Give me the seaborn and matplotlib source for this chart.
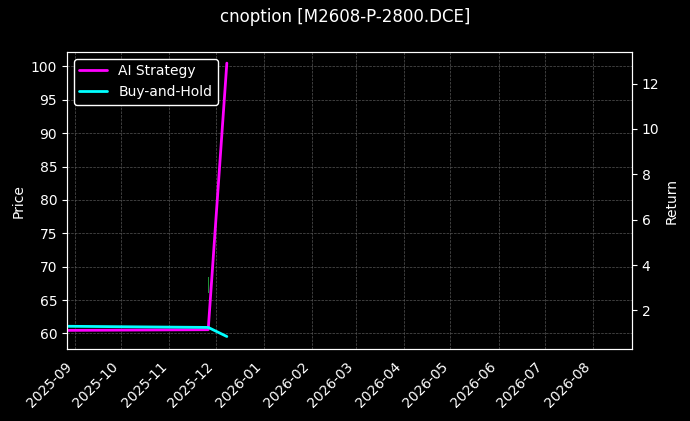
import matplotlib
matplotlib.use("Agg")
import matplotlib.pyplot as plt
import matplotlib.dates as mdates
import seaborn as sns
import pandas as pd

dates = pd.to_datetime(["2025-08-28", "2025-11-26", "2025-12-08"])
ai_return = [1.12, 1.15, 12.9]
bh_return = [1.30, 1.25, 0.85]
candle_date = pd.to_datetime(["2025-11-26"])
candle_open = [66.0]
candle_close = [68.5]

sns.set_style("dark")
plt.rcParams.update({"figure.facecolor": "black", "axes.facecolor": "black",
                     "text.color": "white", "axes.labelcolor": "white",
                     "xtick.color": "white", "ytick.color": "white",
                     "axes.edgecolor": "white"})
plt.rcParams['font.family'] = ['DejaVu Sans']

xmin, xmax = pd.Timestamp("2025-08-27"), pd.Timestamp("2026-08-26")
fig, ax = plt.subplots(figsize=(6.9, 4.21), dpi=100)
ax.grid(True, color="#555555", linestyle="--", linewidth=0.5)
for d, o, c in zip(candle_date, candle_open, candle_close):
    ax.bar(d, c - o, bottom=o, width=0.8, color="#1f8f35", edgecolor="none", linewidth=0)
ax.set_ylim(57.6, 102.2)
ax.set_ylabel("Price")
ax.set_xlim(xmin, xmax)
ax.xaxis.set_major_locator(mdates.MonthLocator())
ax.xaxis.set_major_formatter(mdates.DateFormatter("%Y-%m"))
plt.setp(ax.get_xticklabels(), rotation=45, ha="right")

ax2 = ax.twinx()
df = pd.DataFrame({"date": list(dates) * 2, "ret": ai_return + bh_return,
                   "s": ["AI Strategy"] * 3 + ["Buy-and-Hold"] * 3})
sns.lineplot(data=df, x="date", y="ret", hue="s", ax=ax2,
             palette=["#ff00ff", "#00ffff"], linewidth=2)
ax2.set_ylim(0.28, 13.4)
ax2.set_ylabel("Return")
ax2.set_xlabel("")
ax2.grid(False)
leg = ax2.legend(loc="upper left", facecolor="black", edgecolor="white", framealpha=1)
leg.set_title(None)
for t in leg.get_texts():
    t.set_color("white")
ax2.set_xlim(xmin, xmax)
fig.suptitle("cnoption [M2608-P-2800.DCE]", color="white")
fig.subplots_adjust(left=0.097, right=0.916, top=0.877, bottom=0.17)
fig.savefig("out.png", dpi=100, facecolor="black")
